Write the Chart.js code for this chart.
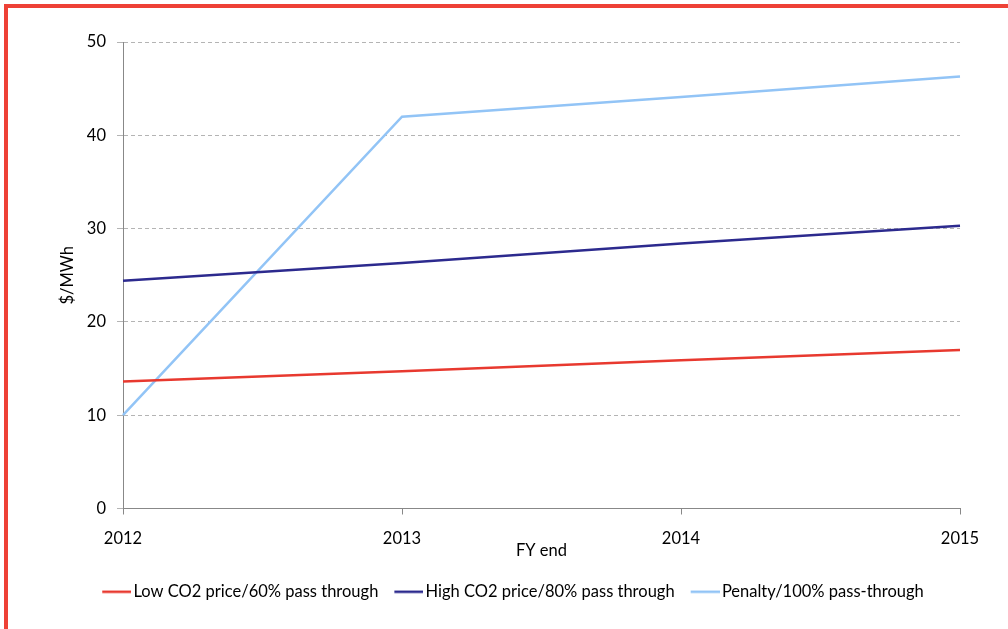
<!DOCTYPE html>
<html>
<head>
<meta charset="utf-8">
<script src="https://cdn.jsdelivr.net/npm/chart.js@4"></script>
<style>
    html, body { margin: 0; padding: 0; background: #fff; }
    #wrap { position: relative; width: 1008px; height: 629px; overflow: hidden; }
    #frame {
        position: absolute; left: 4px; top: 4px; right: 0; bottom: 0;
        border-left: 4px solid #ee4136; border-top: 4px solid #ee4136;
        pointer-events: none;
    }
    canvas { position: absolute; left: 0; top: 0; }
</style>
</head>
<body>
<div id="wrap">
    <canvas id="myChart" width="1008" height="629"></canvas>
    <div id="frame"></div>
</div>
<script>
const years = ['2012', '2013', '2014', '2015'];
const lowCo2 = [13.6, 14.7, 15.9, 17.0];
const highCo2 = [24.4, 26.3, 28.4, 30.3];
const penalty = [10.0, 42.0, 44.1, 46.3];

const seriesNames = ['Low CO2 price/60% pass through', 'High CO2 price/80% pass through', 'Penalty/100% pass-through'];
const seriesColors = ['#e8392f', '#2c2a8e', '#92c4f6'];

const font = { family: 'Lato, "Open Sans", sans-serif', size: 16.5 };

// short line swatch for the legend, drawn in the right part of a wider canvas
// so the text sits almost against the end of the line
function lineMarker(color) {
    const c = document.createElement('canvas');
    c.width = 35;
    c.height = 4;
    const g = c.getContext('2d');
    g.strokeStyle = color;
    g.lineWidth = 2.5;
    g.beginPath();
    g.moveTo(6, 2);
    g.lineTo(35, 2);
    g.stroke();
    return c;
}

document.addEventListener("DOMContentLoaded", () => {
    const ctx = document.getElementById('myChart').getContext('2d');
    const markers = seriesColors.map(lineMarker);
    const series = [lowCo2, highCo2, penalty];

    new Chart(ctx, {
        type: 'line',
        data: {
            labels: years,
            datasets: series.map((values, i) => ({
                label: seriesNames[i],
                data: values,
                borderColor: seriesColors[i],
                backgroundColor: seriesColors[i]
            }))
        },
        options: {
            responsive: false,
            animation: false,
            devicePixelRatio: 1,
            elements: {
                line: { borderWidth: 2.5, tension: 0 },
                point: { radius: 0, hoverRadius: 0 }
            },
            layout: { padding: { top: 42, right: 48, bottom: 19, left: 66 } },
            plugins: {
                tooltip: { enabled: false },
                legend: {
                    position: 'bottom',
                    labels: {
                        usePointStyle: true,
                        pointStyleWidth: 23,
                        padding: 16,
                        color: '#000',
                        font: font,
                        generateLabels: (chart) => {
                            const items = Chart.defaults.plugins.legend.labels.generateLabels(chart);
                            items.forEach((item, i) => { item.pointStyle = markers[i]; });
                            return items;
                        }
                    }
                }
            },
            scales: {
                x: {
                    offset: false,
                    grid: { drawOnChartArea: false, drawTicks: true, tickLength: 6, color: '#888' },
                    border: { color: '#888', width: 1 },
                    ticks: { color: '#000', font: font, padding: 14, maxRotation: 0 },
                    title: { display: true, text: 'FY end', color: '#000', font: font, padding: { top: 0, bottom: 7 } },
                    afterFit: (scale) => { scale.height = 59; }
                },
                y: {
                    min: 0,
                    max: 50,
                    grid: { color: '#b4b4b4', tickLength: 6, tickColor: '#b4b4b4' },
                    border: { color: '#888', width: 1, dash: [4, 3] },
                    ticks: { stepSize: 10, color: '#000', font: font, padding: 11 },
                    title: { display: true, text: '$/MWh', color: '#000', font: font, padding: { top: -8, bottom: 0 } },
                    afterFit: (scale) => { scale.width = 57; }
                }
            }
        }
    });
});
</script>
</body>
</html>
